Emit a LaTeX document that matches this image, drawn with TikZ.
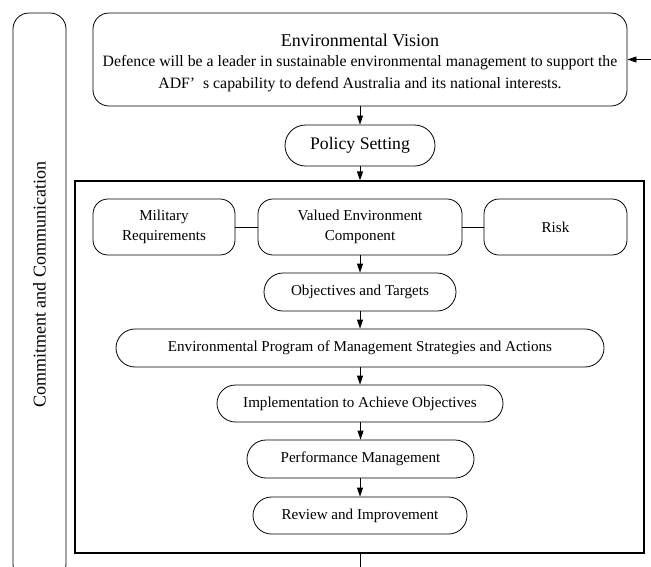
\documentclass[tikz,border=0pt]{standalone}
\usepackage{fontspec}
\setmainfont{Liberation Serif}
\usetikzlibrary{arrows.meta}
\tikzset{
  box/.style={draw,line width=0.8pt,inner sep=0pt,align=center,font=\fontsize{15.1}{19.5}\selectfont},
  pill/.style={box,rounded corners=#1},
  flow/.style={-{Triangle[length=9pt,width=6pt]},line width=0.8pt}
}
\begin{document}
\begin{tikzpicture}[x=1pt,y=-1pt]
                \useasboundingbox (0,0) rectangle (651,566);
                \clip (0,0) rectangle (651,566);
                \node[pill=16pt,minimum width=53pt,minimum height=567pt] (commit) at (39.5,296.5) {};
                \node[rotate=90,font=\fontsize{18}{20}\selectfont] (committext) at (39.5,285) {Commitment and Communication};
                \node[pill=16pt,minimum width=534pt,minimum height=93pt] (vision) at (360,59.5) {};
                \node[font=\fontsize{18}{20}\selectfont] (visiontitle) at (360,40) {Environmental Vision};
                \node[align=center,font=\fontsize{15.8}{22}\selectfont] (visiontext) at (360,73.5) {Defence will be a leader in sustainable environmental management to support the\\ADF’\ \ s capability to defend Australia and its national interests.};
                \node[pill=20.5pt,minimum width=150pt,minimum height=41pt,font=\fontsize{17.7}{20}\selectfont] (policy) at (360,145.5) {Policy Setting};
                \node[draw,line width=1.2pt,minimum width=569pt,minimum height=372pt] (frame) at (359.5,367) {};
                \node[pill=15pt,minimum width=142pt,minimum height=56pt] (military) at (164,227) {Military\\Requirements};
                \node[pill=15pt,minimum width=204pt,minimum height=56pt] (vec) at (360,227) {Valued Environment\\Component};
                \node[pill=15pt,minimum width=143pt,minimum height=56pt] (risk) at (555.5,227) {Risk};
                \node[pill=19pt,minimum width=192pt,minimum height=38pt] (objectives) at (360,292) {Objectives and Targets};
                \node[pill=19pt,minimum width=488pt,minimum height=38pt] (program) at (360,348) {Environmental Program of Management Strategies and Actions};
                \node[pill=18.5pt,minimum width=286pt,minimum height=37pt] (implement) at (360,403.5) {Implementation to Achieve Objectives};
                \node[pill=19pt,minimum width=227pt,minimum height=38pt] (perform) at (360.5,459) {Performance Management};
                \node[pill=18.5pt,minimum width=214pt,minimum height=37pt] (review) at (360,515.5) {Review and Improvement};
                \coordinate (feed) at (651,59.5);
                \coordinate (exit) at (360,570);
                \draw[flow] (feed) -- (vision.east);
                \draw[flow] (vision.south) -- (policy.north);
                \draw[flow] (policy.south) -- (policy.south |- frame.north);
                \draw[line width=0.8pt] (military) -- (vec) -- (risk);
                \draw[flow] (vec) -- (objectives);
                \draw[flow] (objectives) -- (program);
                \draw[flow] (program) -- (implement);
                \draw[flow] (implement.south) -- (implement.south -| perform.north) -- (perform.north);
                \draw[flow] (perform.south -| review.north) -- (review.north);
                \draw[line width=0.8pt] (frame.south -| exit) -- (exit);
            \end{tikzpicture}
\end{document}
